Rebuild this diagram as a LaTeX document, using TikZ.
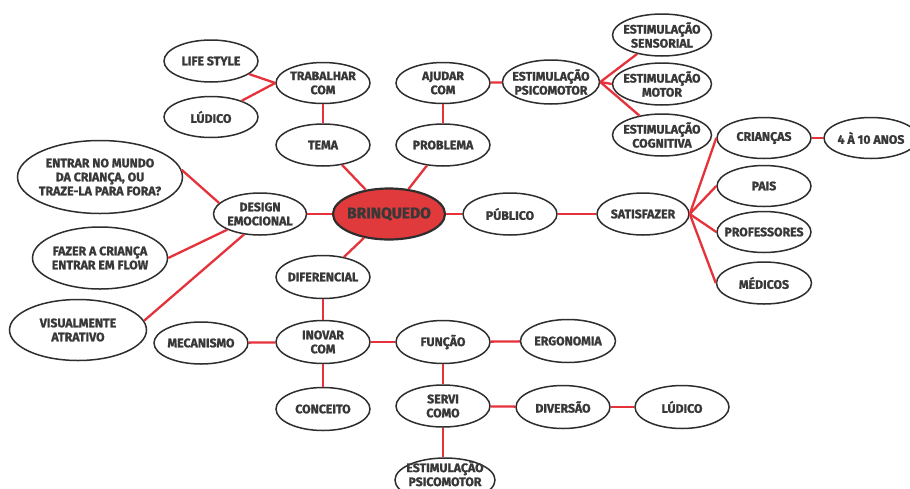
\documentclass[tikz,border=0pt]{standalone}
\usepackage{fontspec}
\setmainfont{Fira Sans}[BoldFeatures={FakeBold=1.3}]
\usetikzlibrary{shapes.geometric}
\definecolor{ink}{HTML}{2E2E2E}
\definecolor{txtc}{HTML}{383838}
\definecolor{linkred}{HTML}{E5323B}
\definecolor{hubred}{HTML}{E03A3C}
\tikzset{
  oval/.style={ellipse, draw=ink, line width=1.5pt, fill=white, inner sep=0pt},
  txt/.style={font=\bfseries\fontsize{12.3}{14}\selectfont, text=txtc, align=center, inner sep=0pt},
  link/.style={draw=linkred, line width=2.3pt},
}
\newcommand{\ov}[6]{\node[oval, minimum width=#4pt, minimum height=#5pt,
  label={[txt]center:#6}] (#1) at (#2,#3) {};}
\begin{document}
\begin{tikzpicture}[x=1pt,y=-1pt]
\useasboundingbox (0,0) rectangle (910,488);
\clip (0,0) rectangle (910,488);
\fill[white] (0,0) rectangle (910,488);
% nodes
\ov{life}{211}{61}{94}{42}{LIFE STYLE}
\ov{ludicoa}{211}{117}{94}{41}{LÚDICO}
\ov{trab}{323}{83}{94}{41}{TRABALHAR\\COM}
\ov{ajudar}{443}{83}{94}{41}{AJUDAR\\COM}
\ov{tema}{323}{145}{94}{42}{TEMA}
\ov{problema}{443}{145}{94}{42}{PROBLEMA}
\ov{entrar}{100}{177}{165}{73}{ENTRAR NO MUNDO\\DA CRIANÇA, OU\\TRAZE-LA PARA FORA?}
\ov{design}{260}{214}{93}{42}{DESIGN\\EMOCIONAL}
\node[ellipse, draw=ink, line width=2.2pt, fill=hubred, inner sep=0pt,
  minimum width=112pt, minimum height=51pt,
  label={[txt,font=\bfseries\fontsize{15.5}{17}\selectfont]center:BRINQUEDO}] (brinq) at (389,214) {};
\ov{estpsi}{551}{82}{97}{44}{ESTIMULAÇÃO\\PSICOMOTOR}
\ov{sens}{662}{35}{99}{42}{ESTIMULAÇÃO\\SENSORIAL}
\ov{motor}{662}{84}{99}{42}{ESTIMULAÇÃO\\MOTOR}
\ov{cogn}{662}{135}{99}{42}{ESTIMULAÇÃO\\COGNITIVA}
\ov{criancas}{764}{138}{94}{41}{CRIANÇAS}
\ov{anos}{871}{138}{94}{41}{4 À 10 ANOS}
\ov{pais}{764}{186}{94}{41}{PAIS}
\ov{publico}{510}{214}{94}{42}{PÚBLICO}
\ov{satisf}{643}{214}{92}{42}{SATISFAZER}
\ov{prof}{764}{232}{94}{41}{PROFESSORES}
\ov{medicos}{764}{283}{95}{42}{MÉDICOS}
\ov{fazer}{100}{258}{135}{62}{FAZER A CRIANÇA\\ENTRAR EM FLOW}
\ov{visual}{78}{330}{137}{61}{VISUALMENTE\\ATRATIVO}
\ov{difer}{323}{277}{94}{43}{DIFERENCIAL}
\ov{mecan}{201}{343}{94}{42}{MECANISMO}
\ov{inovar}{323}{342}{94}{43}{INOVAR\\COM}
\ov{funcao}{443}{342}{94}{43}{FUNÇÃO}
\ov{ergon}{568}{341}{95}{43}{ERGONOMIA}
\ov{conceito}{323}{409}{94}{43}{CONCEITO}
\ov{servi}{443}{406}{94}{42}{SERVI\\COMO}
\ov{divers}{563}{407}{94}{43}{DIVERSÃO}
\ov{ludicob}{682}{407}{94}{43}{LÚDICO}
\node[oval, minimum width=100pt, minimum height=44pt,
  label={[txt,yshift=6.5pt]center:ESTIMULAÇÃO\\PSICOMOTOR}] (estpsib) at (445,480) {};
% connectors
\draw[link] (trab.west) -- (life);
\draw[link] (trab.west) -- (ludicoa);
\draw[link] (trab) -- (tema);
\draw[link] (ajudar) -- (problema);
\draw[link] (ajudar) -- (estpsi);
\draw[link] (tema) -- (brinq);
\draw[link] (problema) -- (brinq);
\draw[link] (estpsi.east) -- (sens);
\draw[link] (estpsi.east) -- (motor.west);
\draw[link] (estpsi.east) -- (cogn);
\draw[link] (brinq) -- (publico);
\draw[link] (publico) -- (satisf);
\draw[link] (satisf.east) -- (criancas.west);
\draw[link] (satisf.east) -- (pais.west);
\draw[link] (satisf.east) -- (prof.west);
\draw[link] (satisf.east) -- (medicos.west);
\draw[link] (criancas) -- (anos);
\draw[link] (brinq) -- (design);
\draw[link] (design.165) -- (entrar.5);
\draw[link] (design) -- (fazer.east);
\draw[link] (design.232) -- (visual.8);
\draw[link] (brinq) -- (difer);
\draw[link] (difer) -- (inovar);
\draw[link] (mecan) -- (inovar);
\draw[link] (inovar) -- (funcao);
\draw[link] (inovar) -- (conceito);
\draw[link] (funcao) -- (ergon);
\draw[link] (funcao) -- (servi);
\draw[link] (servi) -- (divers);
\draw[link] (divers) -- (ludicob);
\draw[link] (servi.south) -- (servi.south |- estpsib.north);
\end{tikzpicture}
\end{document}
